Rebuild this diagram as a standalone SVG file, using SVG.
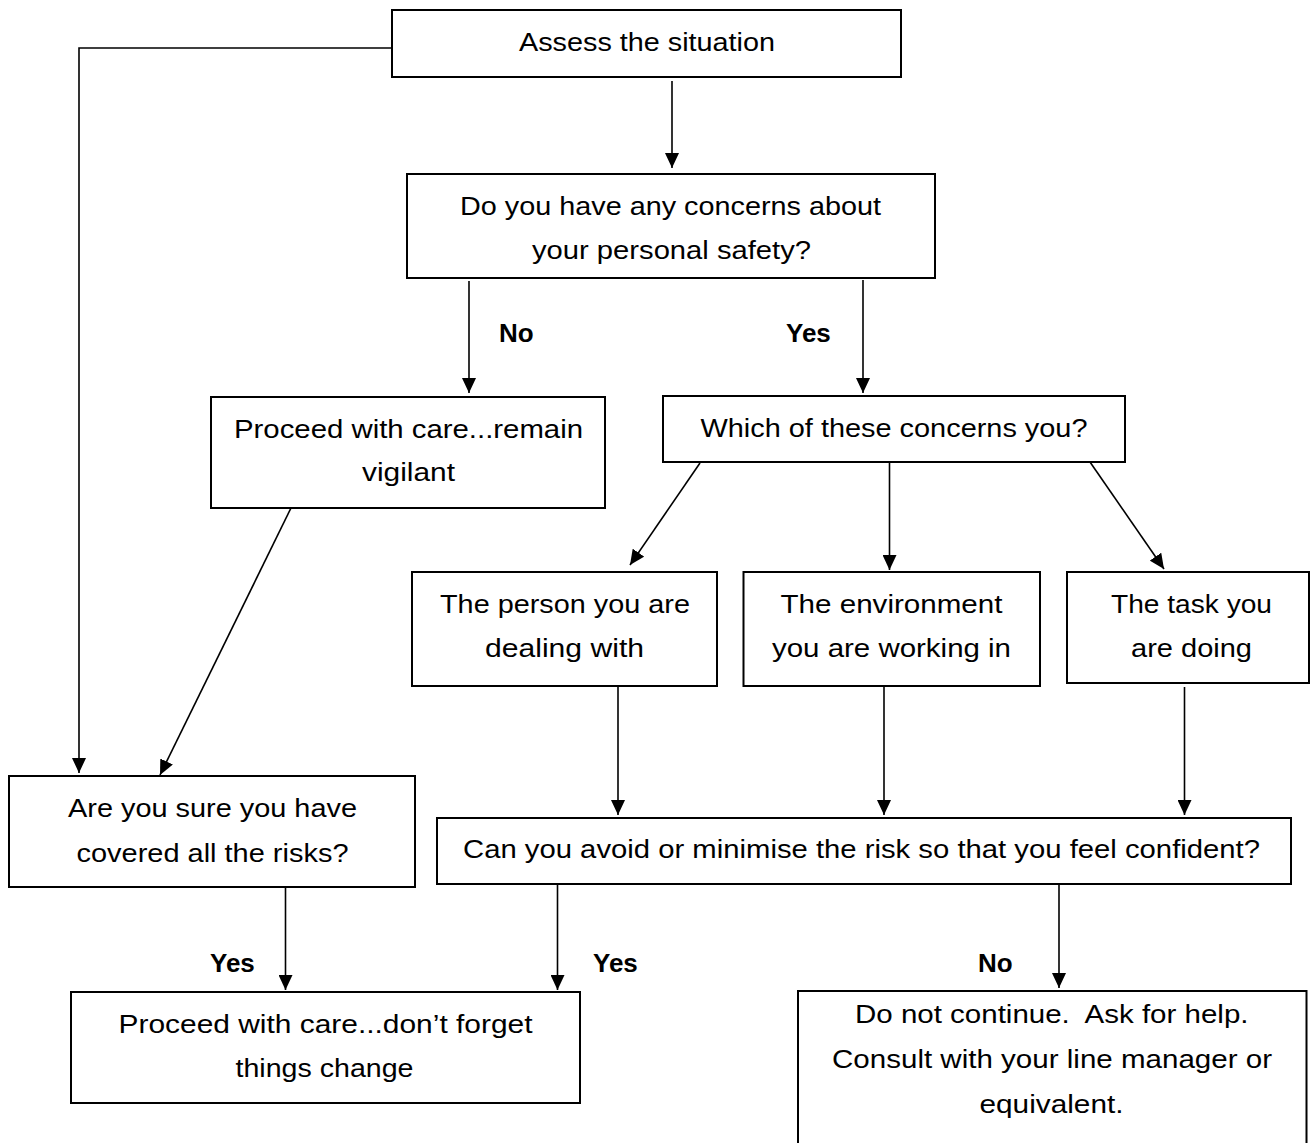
<svg xmlns="http://www.w3.org/2000/svg" width="1311" height="1143" viewBox="0 0 1311 1143">
<style>
.box{fill:#fff;stroke:#000;stroke-width:2}
.t{font-family:"Liberation Sans",Arial,sans-serif;font-size:26px;fill:#000}
.lbl{font-family:"Liberation Sans",Arial,sans-serif;font-size:26px;font-weight:bold;fill:#000}
.c{fill:none;stroke:#000;stroke-width:1.6}
</style>
<defs>
<marker id="ah" viewBox="0 0 15 14" refX="15" refY="7" markerWidth="15" markerHeight="14" markerUnits="userSpaceOnUse" orient="auto">
<path d="M0,0 L15,7 L0,14 z" fill="#000"/>
</marker>
</defs>
<rect width="1311" height="1143" fill="#fff"/>
<g id="connectors">
<line class="c" x1="672" y1="81" x2="672" y2="168" marker-end="url(#ah)"/>
<polyline class="c" points="392,48 79,48 79,773" marker-end="url(#ah)"/>
<line class="c" x1="469" y1="281" x2="469" y2="393" marker-end="url(#ah)"/>
<line class="c" x1="863" y1="280" x2="863" y2="393" marker-end="url(#ah)"/>
<line class="c" x1="291" y1="508" x2="160" y2="775" marker-end="url(#ah)"/>
<line class="c" x1="700" y1="463" x2="630" y2="565" marker-end="url(#ah)"/>
<line class="c" x1="889.5" y1="462" x2="889.5" y2="570" marker-end="url(#ah)"/>
<line class="c" x1="1090" y1="462" x2="1164" y2="569" marker-end="url(#ah)"/>
<line class="c" x1="618" y1="687" x2="618" y2="815" marker-end="url(#ah)"/>
<line class="c" x1="884" y1="687" x2="884" y2="815" marker-end="url(#ah)"/>
<line class="c" x1="1184.5" y1="687" x2="1184.5" y2="815" marker-end="url(#ah)"/>
<line class="c" x1="285.5" y1="888" x2="285.5" y2="990" marker-end="url(#ah)"/>
<line class="c" x1="557.5" y1="885" x2="557.5" y2="990" marker-end="url(#ah)"/>
<line class="c" x1="1059" y1="885" x2="1059" y2="988" marker-end="url(#ah)"/>
<text class="lbl" x="499" y="342">No</text>
<text class="lbl" x="786" y="342">Yes</text>
<text class="lbl" x="210" y="972">Yes</text>
<text class="lbl" x="593" y="972">Yes</text>
<text class="lbl" x="978" y="972">No</text>
</g>
<g id="assess">
<rect class="box" x="392" y="10" width="509" height="67"/>
<text class="t" x="519" y="51" textLength="256" lengthAdjust="spacingAndGlyphs">Assess the situation</text>
</g>
<g id="concerns">
<rect class="box" x="407" y="174" width="528" height="104"/>
<text class="t" x="460" y="215" textLength="421" lengthAdjust="spacingAndGlyphs">Do you have any concerns about</text>
<text class="t" x="532" y="259" textLength="279" lengthAdjust="spacingAndGlyphs">your personal safety?</text>
</g>
<g id="proceed-vigilant">
<rect class="box" x="211" y="397" width="394" height="111"/>
<text class="t" x="234" y="438" textLength="349" lengthAdjust="spacingAndGlyphs">Proceed with care...remain</text>
<text class="t" x="362" y="481" textLength="93" lengthAdjust="spacingAndGlyphs">vigilant</text>
</g>
<g id="which">
<rect class="box" x="663" y="396" width="462" height="66"/>
<text class="t" x="700.5" y="437" textLength="387" lengthAdjust="spacingAndGlyphs">Which of these concerns you?</text>
</g>
<g id="person">
<rect class="box" x="412" y="572" width="305" height="114"/>
<text class="t" x="440" y="613" textLength="250" lengthAdjust="spacingAndGlyphs">The person you are</text>
<text class="t" x="485" y="657" textLength="159" lengthAdjust="spacingAndGlyphs">dealing with</text>
</g>
<g id="environment">
<rect class="box" x="743.5" y="572" width="296.5" height="114"/>
<text class="t" x="780.5" y="613" textLength="222" lengthAdjust="spacingAndGlyphs">The environment</text>
<text class="t" x="772" y="657" textLength="239" lengthAdjust="spacingAndGlyphs">you are working in</text>
</g>
<g id="task">
<rect class="box" x="1067" y="572" width="242" height="111"/>
<text class="t" x="1111" y="613" textLength="161" lengthAdjust="spacingAndGlyphs">The task you</text>
<text class="t" x="1131" y="657" textLength="121" lengthAdjust="spacingAndGlyphs">are doing</text>
</g>
<g id="sure">
<rect class="box" x="9" y="776" width="406" height="111"/>
<text class="t" x="68" y="817" textLength="289" lengthAdjust="spacingAndGlyphs">Are you sure you have</text>
<text class="t" x="76.5" y="862" textLength="272" lengthAdjust="spacingAndGlyphs">covered all the risks?</text>
</g>
<g id="avoid">
<rect class="box" x="437" y="818" width="854" height="66"/>
<text class="t" x="463" y="858" textLength="797" lengthAdjust="spacingAndGlyphs">Can you avoid or minimise the risk so that you feel confident?</text>
</g>
<g id="proceed-change">
<rect class="box" x="71" y="992" width="509" height="111"/>
<text class="t" x="118.5" y="1033" textLength="414" lengthAdjust="spacingAndGlyphs">Proceed with care...don’t forget</text>
<text class="t" x="235.5" y="1077" textLength="178" lengthAdjust="spacingAndGlyphs">things change</text>
</g>
<g id="stop">
<rect class="box" x="798" y="991" width="508.5" height="170"/>
<text class="t" x="855" y="1023" textLength="393.5" lengthAdjust="spacingAndGlyphs" xml:space="preserve">Do not continue.  Ask for help.</text>
<text class="t" x="832" y="1068" textLength="440" lengthAdjust="spacingAndGlyphs">Consult with your line manager or</text>
<text class="t" x="979.5" y="1113" textLength="144" lengthAdjust="spacingAndGlyphs">equivalent.</text>
</g>
</svg>
